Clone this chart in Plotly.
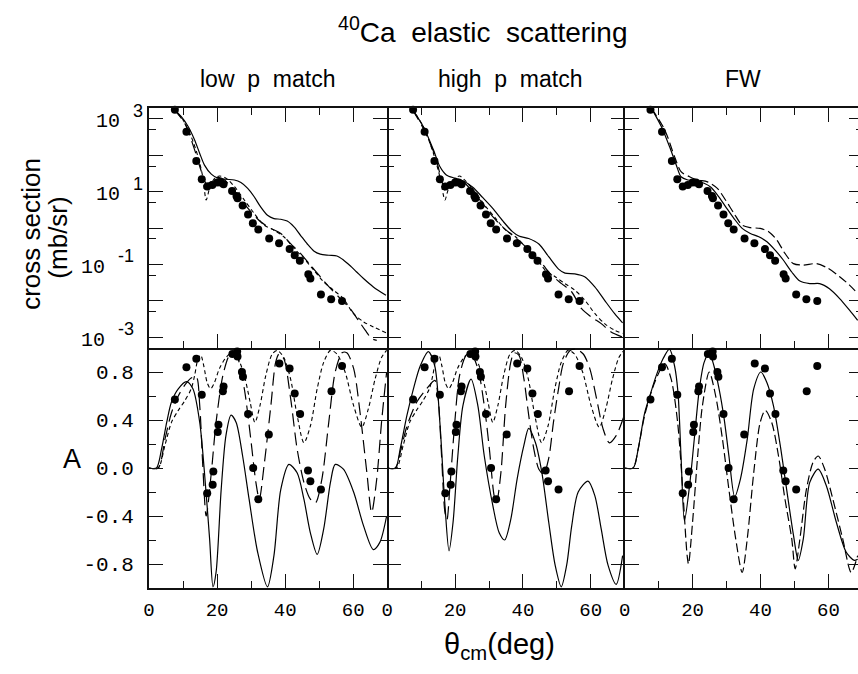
import numpy as np
import plotly.graph_objects as go

# ---------------- data (theta in deg; cross sections as log10(mb/sr)) ----------------
xs_theta = [7.6, 11.0, 13.9, 15.5, 17.1, 18.6, 20.0, 21.0, 21.9, 24.4, 25.7, 26.0, 27.5, 29.1, 30.5, 32.1,
            35.3, 38.2, 41.3, 42.8, 44.3, 46.8, 47.4, 50.5, 53.5, 56.7]
xs_log10 = [3.25, 2.65, 1.84, 1.34, 1.14, 1.18, 1.25, 1.25, 1.20, 1.02, 0.88, 0.82, 0.62, 0.37, 0.13, -0.04,
            -0.29, -0.42, -0.58, -0.75, -0.90, -1.27, -1.39, -1.83, -1.96, -2.01]

ay_theta = [7.6, 11.0, 13.9, 15.5, 17.1, 18.7, 18.9, 20.2, 20.4, 21.7, 21.9, 24.5, 25.9, 26.0, 27.3, 27.6,
            29.1, 30.6, 32.1, 35.2, 38.3, 41.3, 42.8, 44.4, 46.7, 47.4, 50.5, 53.6, 56.7]
ay_val = [0.57, 0.84, 0.91, 0.61, -0.21, -0.14, -0.03, 0.30, 0.36, 0.64, 0.68, 0.95, 0.97, 0.93, 0.80, 0.76,
          0.45, 0.0, -0.26, 0.28, 0.87, 0.83, 0.62, 0.45, -0.02, -0.11, -0.18, 0.64, 0.85]

# low p match : cross section
lowp_xs_solid_t = [7.1, 9.5, 11.5, 13.4, 14.9, 16.3, 18.3, 20.2, 22.6, 25.1, 27.0, 29.0, 30.9, 32.8, 34.8, 36.7,
                   38.7, 40.6, 42.6, 44.5, 46.5, 48.4, 50.3, 52.8, 55.2, 57.1, 59.1, 61.0, 63.0, 65.9, 69.6]
lowp_xs_solid = [3.29, 3.06, 2.79, 2.42, 2.05, 1.73, 1.48, 1.37, 1.34, 1.32, 1.25, 1.09, 0.86, 0.58, 0.35, 0.26,
                 0.24, 0.19, 0.03, -0.20, -0.44, -0.63, -0.72, -0.75, -0.77, -0.88, -1.04, -1.21, -1.39, -1.62, -1.85]
lowp_xs_long_t = [7.1, 10.5, 13.4, 15.4, 16.8, 18.3, 20.2, 22.2, 24.1, 27.0, 29.9, 32.8, 35.8, 38.7, 41.6, 44.5,
                  47.4, 50.3, 53.3, 56.2, 59.1, 61.5, 63.5, 65.4, 66.9]
lowp_xs_long = [3.29, 2.88, 2.15, 1.55, 1.23, 1.27, 1.39, 1.32, 1.12, 0.77, 0.45, 0.17, -0.01, -0.15, -0.43, -0.70,
                -1.02, -1.34, -1.66, -1.94, -2.22, -2.54, -2.81, -3.04, -3.09]
lowp_xs_short_t = [7.1, 10.0, 12.4, 14.4, 15.8, 16.8, 17.8, 19.2, 20.7, 22.6, 25.1, 28.0, 30.9, 33.8, 36.7, 39.6,
                   42.6, 45.5, 48.4, 51.3, 54.2, 57.1, 60.0, 63.0, 65.9, 69.6]
lowp_xs_short = [3.29, 2.97, 2.51, 1.96, 1.41, 0.77, 1.09, 1.36, 1.43, 1.37, 1.14, 0.77, 0.40, 0.08, -0.06, -0.24,
                 -0.56, -0.84, -1.16, -1.48, -1.71, -1.94, -2.35, -2.58, -2.72, -2.88]

# high p match : cross section
highp_xs_solid_t = [7.2, 10.6, 13.6, 15.5, 17.4, 19.9, 22.3, 25.2, 28.1, 31.1, 34.0, 36.9, 38.8, 41.7, 44.7, 47.6,
                    50.5, 52.4, 55.3, 58.2, 61.2, 64.1, 67.0, 69.4]
highp_xs_solid = [3.29, 2.79, 2.15, 1.69, 1.46, 1.37, 1.30, 1.12, 0.84, 0.54, 0.20, -0.10, -0.22, -0.29, -0.44, -0.79,
                  -1.13, -1.24, -1.26, -1.34, -1.62, -1.99, -2.35, -2.61]
highp_xs_long_t = [7.2, 10.6, 14.0, 16.0, 17.0, 17.9, 20.4, 22.3, 25.2, 28.1, 31.1, 34.0, 36.9, 39.8, 42.7, 45.6,
                   48.5, 51.4, 54.4, 57.3, 60.2, 63.1, 66.0, 69.4]
highp_xs_long = [3.29, 2.74, 2.01, 1.32, 1.04, 1.18, 1.32, 1.27, 1.00, 0.68, 0.31, 0.03, -0.20, -0.43, -0.70, -0.98,
                 -1.30, -1.53, -1.76, -2.22, -2.45, -2.63, -2.86, -3.00]
highp_xs_short_t = [7.2, 10.6, 13.6, 15.5, 17.0, 17.9, 19.4, 21.3, 23.3, 26.2, 29.1, 32.0, 34.9, 37.8, 40.8, 43.7,
                    46.6, 49.5, 52.4, 55.3, 58.3, 61.2, 64.1, 67.0, 69.4]
highp_xs_short = [3.29, 2.79, 2.05, 1.41, 0.77, 1.04, 1.32, 1.43, 1.27, 0.95, 0.58, 0.26, -0.06, -0.24, -0.52, -0.79,
                  -1.16, -1.34, -1.53, -1.71, -1.99, -2.35, -2.63, -2.81, -2.90]

# FW : cross section
fw_xs_solid_t = [7.9, 10.8, 13.2, 15.2, 16.6, 18.6, 21.0, 23.4, 25.4, 27.3, 29.7, 32.2, 34.6, 37.0, 39.5, 41.9,
                 44.3, 46.7, 49.2, 51.6, 54.5, 57.4, 60.3, 63.3, 66.2, 68.6]
fw_xs_solid = [3.29, 2.79, 2.24, 1.73, 1.41, 1.32, 1.29, 1.23, 1.12, 0.91, 0.59, 0.26, -0.01, -0.15, -0.24, -0.38,
               -0.61, -0.88, -1.21, -1.46, -1.53, -1.53, -1.67, -1.94, -2.26, -2.54]
fw_xs_dash_t = [7.9, 11.8, 14.7, 16.6, 19.1, 21.5, 24.4, 27.3, 29.7, 32.2, 34.6, 37.0, 39.9, 42.4, 44.8, 47.2,
                49.7, 52.6, 56.5, 59.9, 63.3, 66.2, 68.6]
fw_xs_dash = [3.29, 2.70, 1.96, 1.55, 1.41, 1.32, 1.27, 1.09, 0.77, 0.40, 0.08, 0.01, -0.01, -0.10, -0.33, -0.70,
              -0.98, -1.02, -0.98, -1.11, -1.34, -1.57, -1.80]

# analysing power curves
lowp_a_solid_t = [0, 2.2, 3.7, 5.2, 6.6, 8.6, 11.0, 12.9, 14.9, 16.3, 17.8, 18.8, 19.7, 21.2, 22.6, 24.1, 25.6, 27.5,
                  29.4, 31.9, 34.8, 36.7, 38.7, 41.1, 43.5, 45.5, 47.4, 49.4, 51.3, 53.3, 54.7, 57.1, 60.1, 63.0,
                  65.9, 67.8, 69.8]
lowp_a_solid = [0.0, 0.0, 0.16, 0.38, 0.55, 0.66, 0.72, 0.66, 0.38, -0.04, -0.59, -0.99, -0.87, -0.18, 0.27, 0.44,
                0.38, 0.10, -0.26, -0.70, -0.99, -0.73, -0.18, 0.03, -0.04, -0.26, -0.54, -0.72, -0.51, -0.12, 0.03,
                -0.01, -0.20, -0.48, -0.68, -0.62, -0.40]
lowp_a_long_t = [0, 2.7, 4.7, 6.6, 8.6, 10.5, 12.4, 13.9, 14.9, 15.8, 16.8, 18.3, 19.7, 21.7, 23.6, 24.6, 26.0, 28.0,
                 29.9, 31.4, 32.4, 33.8, 35.8, 37.2, 38.2, 39.6, 41.6, 43.5, 45.5, 47.4, 48.9, 50.8, 52.8, 54.7,
                 56.7, 58.1, 60.1, 62.0, 64.0, 65.4, 66.9, 68.3, 69.8]
lowp_a_long = [0.0, 0.0, 0.24, 0.46, 0.60, 0.69, 0.75, 0.76, 0.52, 0.02, -0.40, -0.04, 0.38, 0.77, 0.94, 0.96, 0.92,
               0.66, 0.24, -0.12, -0.26, 0.02, 0.52, 0.88, 0.95, 0.91, 0.58, 0.16, -0.12, -0.26, -0.29, -0.09, 0.38,
               0.80, 0.96, 0.96, 0.83, 0.46, -0.04, -0.37, -0.09, 0.38, 0.80]
ref_a_short_t = [0, 2.7, 4.7, 6.6, 8.6, 10.5, 12.4, 13.4, 14.4, 15.2, 16.1, 17.1, 18.1, 19.2, 20.7, 22.6, 24.3,
                 26.0, 28.0, 29.7, 31.1, 32.6, 34.3, 36.2, 37.7, 39.6, 41.6, 43.5, 45.5, 47.4, 49.4, 51.3, 53.3,
                 55.2, 57.6, 60.1, 62.5, 64.4, 66.4, 68.3, 69.8]
ref_a_short = [0.0, 0.0, 0.19, 0.38, 0.48, 0.56, 0.66, 0.77, 0.91, 0.94, 0.85, 0.71, 0.66, 0.71, 0.83, 0.92, 0.96,
               0.92, 0.77, 0.55, 0.38, 0.52, 0.77, 0.95, 0.98, 0.92, 0.74, 0.44, 0.21, 0.35, 0.66, 0.88, 0.98, 0.95,
               0.80, 0.52, 0.34, 0.49, 0.74, 0.92, 0.98]
highp_a_solid_t = [0, 2.4, 3.8, 5.8, 7.7, 9.7, 12.1, 14.0, 15.5, 17.0, 18.2, 19.4, 20.8, 22.3, 24.7, 26.7, 28.6,
                   31.1, 33.0, 34.6, 36.4, 38.3, 40.3, 41.7, 43.7, 45.6, 47.6, 49.5, 51.3, 52.9, 54.4, 56.3, 59.2,
                   61.2, 63.1, 65.1, 67.5, 69.4]
highp_a_solid = [0.0, 0.0, 0.16, 0.44, 0.66, 0.85, 0.97, 0.85, 0.38, -0.31, -0.69, -0.45, 0.10, 0.52, 0.74, 0.52,
                 0.10, -0.31, -0.54, -0.60, -0.43, -0.09, 0.19, 0.33, 0.21, -0.04, -0.45, -0.81, -0.99, -0.81, -0.48,
                 -0.20, -0.11, -0.23, -0.51, -0.81, -0.97, -0.73]
highp_a_long_t = [0, 2.4, 3.8, 5.8, 8.7, 11.6, 14.0, 15.0, 16.0, 17.0, 17.6, 18.4, 19.9, 21.3, 23.3, 24.7, 26.7,
                  28.6, 30.1, 31.5, 32.2, 33.5, 34.9, 36.4, 37.4, 38.8, 40.3, 41.7, 43.2, 44.7, 46.1, 47.6, 49.0,
                  50.5, 51.9, 53.9, 55.8, 57.8, 59.7, 61.7, 63.6, 65.5, 67.5, 69.9]
highp_a_long = [0.0, 0.0, 0.13, 0.35, 0.55, 0.66, 0.73, 0.58, 0.10, -0.37, -0.43, -0.18, 0.38, 0.77, 0.94, 0.95,
                0.83, 0.52, 0.16, -0.23, -0.29, -0.04, 0.52, 0.88, 0.96, 0.94, 0.74, 0.44, 0.16, -0.01, -0.05, 0.08,
                0.38, 0.66, 0.87, 0.98, 0.99, 0.95, 0.83, 0.58, 0.33, 0.21, 0.27, 0.44]
fw_a_solid_t = [0, 2.5, 4.0, 5.9, 7.4, 9.3, 11.3, 13.2, 14.7, 15.7, 16.6, 17.6, 19.1, 20.5, 22.0, 23.4, 24.9, 26.3,
                27.8, 29.3, 30.7, 32.4, 34.1, 36.1, 38.0, 40.1, 41.9, 43.8, 45.8, 47.7, 49.7, 51.1, 52.6, 54.5,
                57.0, 59.4, 62.3, 65.2, 67.6, 68.6]
fw_a_solid = [0.0, 0.0, 0.16, 0.46, 0.60, 0.77, 0.91, 0.99, 0.85, 0.63, 0.10, -0.44, -0.15, 0.24, 0.66, 0.88, 0.96,
              0.85, 0.66, 0.41, 0.10, -0.24, -0.09, 0.24, 0.66, 0.80, 0.71, 0.52, 0.19, -0.18, -0.56, -0.77, -0.59,
              -0.12, -0.01, -0.15, -0.45, -0.70, -0.77, -0.76]
fw_a_dash_t = [0, 2.5, 4.0, 5.9, 8.8, 11.8, 13.7, 15.6, 17.1, 18.4, 18.8, 20.0, 21.5, 22.9, 24.9, 26.8, 28.8, 30.7,
               32.7, 34.6, 36.1, 38.0, 39.9, 41.4, 43.3, 45.3, 47.2, 49.2, 50.2, 51.6, 53.5, 55.5, 57.0, 58.9,
               61.3, 64.2, 66.7, 68.6]
fw_a_dash = [0.0, 0.0, 0.16, 0.44, 0.71, 0.87, 0.74, 0.38, -0.18, -0.73, -0.80, -0.45, 0.10, 0.52, 0.80, 0.60, 0.24,
             -0.18, -0.59, -0.87, -0.59, -0.04, 0.38, 0.48, 0.38, 0.10, -0.26, -0.59, -0.84, -0.59, -0.18, 0.05,
             0.10, -0.01, -0.26, -0.59, -0.87, -0.73]

panel_titles = ["low  p  match", "high  p  match", "FW"]
x_tickvals = [0, 20, 40, 60]
x_minor = [10, 30, 50, 70]
xs_tickvals = [1e-3, 1e-2, 1e-1, 1e0, 1e1, 1e2, 1e3]
xs_label_exps = [3, 1, -1, -3]
xs_minor = [5e-3, 5e-2, 5e-1, 5e0, 5e1, 5e2]
a_tickvals = [-0.8, -0.4, 0.0, 0.4, 0.8]
a_ticktext = ["-0.8", "-0.4", "0.0", "0.4", "0.8"]
a_minor = [-0.6, -0.2, 0.2, 0.6]

# ---------------- figure ----------------
W, H = 858, 674
MONO = "Liberation Mono"
SANS = "Liberation Sans"
col_px = [(144, 384), (384, 623), (623, 858)]
col_rng = [[0, 70], [0, 70], [0, 68.7]]
top_px = (108, 348)
bot_px = (348, 588)
AXC = "#111111"
AXW = 1.8

SOLID = dict(color="black", width=1.2)
LONG = dict(color="black", width=1.2, dash="13px,6px")
SHORT = dict(color="black", width=1.1, dash="4px,3px")
MED = dict(color="black", width=1.2, dash="9px,4px")


def ydom(p):
    return [1 - p[1] / H, 1 - p[0] / H]


fig = go.Figure()


def curve(t, v, line, ax, log=False):
    y = np.power(10.0, np.array(v)) if log else v
    fig.add_trace(go.Scatter(x=t, y=y, mode="lines", line=dict(line, shape="spline", smoothing=0.8),
                             xaxis="x%d" % ax, yaxis="y%d" % ax, showlegend=False, hoverinfo="skip"))


def dots(t, v, ax, log=False):
    y = np.power(10.0, np.array(v)) if log else v
    fig.add_trace(go.Scatter(x=t, y=y, mode="markers", marker=dict(color="black", size=8),
                             cliponaxis=False, xaxis="x%d" % ax, yaxis="y%d" % ax, showlegend=False,
                             hoverinfo="skip"))


# top row: cross sections
curve(lowp_xs_solid_t, lowp_xs_solid, SOLID, 1, True)
curve(lowp_xs_long_t, lowp_xs_long, LONG, 1, True)
curve(lowp_xs_short_t, lowp_xs_short, SHORT, 1, True)
curve(highp_xs_solid_t, highp_xs_solid, SOLID, 2, True)
curve(highp_xs_long_t, highp_xs_long, LONG, 2, True)
curve(highp_xs_short_t, highp_xs_short, SHORT, 2, True)
curve(fw_xs_solid_t, fw_xs_solid, SOLID, 3, True)
curve(fw_xs_dash_t, fw_xs_dash, MED, 3, True)
for ax in (1, 2, 3):
    dots(xs_theta, xs_log10, ax, True)

# bottom row: analysing power
curve(lowp_a_solid_t, lowp_a_solid, SOLID, 4)
curve(lowp_a_long_t, lowp_a_long, LONG, 4)
curve(ref_a_short_t, ref_a_short, SHORT, 4)
curve(highp_a_solid_t, highp_a_solid, SOLID, 5)
curve(highp_a_long_t, highp_a_long, LONG, 5)
curve(ref_a_short_t, ref_a_short, SHORT, 5)
curve(fw_a_solid_t, fw_a_solid, SOLID, 6)
curve(fw_a_dash_t, fw_a_dash, MED, 6)
for ax in (4, 5, 6):
    dots(ay_theta, ay_val, ax)

# placeholders for the right-hand tick axes of the FW column
fig.add_trace(go.Scatter(x=[None], y=[None], xaxis="x3", yaxis="y7", showlegend=False, hoverinfo="skip"))
fig.add_trace(go.Scatter(x=[None], y=[None], xaxis="x6", yaxis="y8", showlegend=False, hoverinfo="skip"))

nb = "\u00a0"
layout = dict(width=W, height=H, margin=dict(l=0, r=0, t=0, b=0),
              paper_bgcolor="white", plot_bgcolor="white", showlegend=False)

for i in range(1, 7):
    col = (i - 1) % 3
    top = i <= 3
    xd = [col_px[col][0] / W, col_px[col][1] / W]
    layout["xaxis%d" % i] = dict(
        domain=xd, anchor="y%d" % i, range=col_rng[col], tickmode="array", tickvals=x_tickvals,
        ticktext=[str(v) for v in x_tickvals], showticklabels=not top,
        ticks="inside", ticklen=14, tickwidth=1.2, tickcolor=AXC,
        minor=dict(tickmode="array", tickvals=x_minor, ticks="inside", ticklen=7, tickwidth=1.2, tickcolor=AXC),
        showline=True, linecolor=AXC, linewidth=AXW, mirror=("ticks" if top else False),
        showgrid=False, zeroline=False, tickfont=dict(family=MONO, size=19, color="black"),
        ticklabelstandoff=3)
    ycommon = dict(anchor="x%d" % i,
                   ticks="inside", ticklen=14, tickwidth=1.2, tickcolor=AXC,
                   showline=(col != 1), linecolor=AXC, linewidth=AXW,
                   mirror=("ticks" if col < 2 else False),
                   showgrid=False, zeroline=False, tickfont=dict(family=MONO, size=21, color="black"))
    if top:
        layout["yaxis%d" % i] = dict(
            ycommon, domain=ydom(top_px), type="log", range=[-3.3, 3.3],
            tickmode="array", tickvals=xs_tickvals, showticklabels=False,
            minor=dict(tickmode="array", tickvals=xs_minor, ticks="inside", ticklen=7, tickwidth=1.2,
                       tickcolor=AXC))
    else:
        layout["yaxis%d" % i] = dict(
            ycommon, domain=ydom(bot_px), range=[-1, 1], showticklabels=(col == 0),
            tickmode="array", tickvals=a_tickvals, ticktext=a_ticktext,
            minor=dict(tickmode="array", tickvals=a_minor, ticks="inside", ticklen=7, tickwidth=1.2,
                       tickcolor=AXC),
            ticklabelstandoff=9)

# right-hand ticks of the FW column (panel extends past the picture edge)
layout["yaxis7"] = dict(overlaying="y3", side="right", anchor="free", position=1.0, type="log",
                        range=[-3.3, 3.3], tickmode="array", tickvals=xs_tickvals, showticklabels=False,
                        ticks="inside", ticklen=9, tickwidth=1.2, tickcolor=AXC,
                        minor=dict(tickmode="array", tickvals=xs_minor, ticks="inside", ticklen=2,
                                   tickwidth=1.2, tickcolor=AXC),
                        showline=False, showgrid=False, zeroline=False)
layout["yaxis8"] = dict(overlaying="y6", side="right", anchor="free", position=1.0, range=[-1, 1],
                        tickmode="array", tickvals=a_tickvals, showticklabels=False,
                        ticks="inside", ticklen=9, tickwidth=1.2, tickcolor=AXC,
                        minor=dict(tickmode="array", tickvals=a_minor, ticks="inside", ticklen=2,
                                   tickwidth=1.2, tickcolor=AXC),
                        showline=False, showgrid=False, zeroline=False)

ann = []
# power-of-ten labels of the cross-section axis: mantissa + raised exponent, placed on the log axis
for e in xs_label_exps:
    right = 117 if e > 0 else 102
    ann.append(dict(text="10", x=right / W, xref="paper", y=e, yref="y1", yshift=-3,
                    xanchor="right", yanchor="middle", showarrow=False,
                    font=dict(family=MONO, size=20, color="black")))
    ann.append(dict(text=str(e), x=(right + 9) / W, xref="paper", y=e, yref="y1", yshift=8,
                    xanchor="left", yanchor="middle", showarrow=False,
                    font=dict(family=SANS, size=18, color="black")))

texts = []
texts.append(dict(text="<sup>40</sup>Ca" + nb * 2 + "elastic" + nb * 2 + "scattering", x=480 / W, y=1 - 30 / H,
                  font=dict(family=SANS, size=28, color="black")))
sub_cx = [264, 508, 742]
for c, t in enumerate(panel_titles):
    texts.append(dict(text=t.replace(" ", nb), x=sub_cx[c] / W, y=1 - 79 / H,
                      font=dict(family=SANS, size=23, color="black")))
texts.append(dict(text="θ<sub>cm</sub>(deg)", x=497 / W, y=1 - 646 / H,
                  font=dict(family=SANS, size=29, color="black")))
texts.append(dict(text="cross section", x=25 / W, y=1 - 234 / H, textangle=-90,
                  font=dict(family=SANS, size=26, color="black")))
texts.append(dict(text="(mb/sr)", x=52 / W, y=1 - 238 / H, textangle=-90,
                  font=dict(family=SANS, size=26, color="black")))
texts.append(dict(text="A", x=66 / W, y=1 - 459 / H, font=dict(family=SANS, size=27, color="black")))
for a in texts:
    a.update(xref="paper", yref="paper", showarrow=False, xanchor="center", yanchor="middle")
layout["annotations"] = ann + texts

fig.update_layout(**layout)
fig.write_html("out.html")
